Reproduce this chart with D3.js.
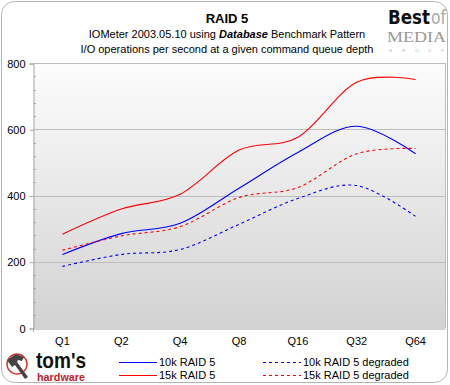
<!DOCTYPE html>
<html>
<head>
<meta charset="utf-8">
<script src="https://cdn.jsdelivr.net/npm/d3@7"></script>
<style>
  body { margin: 0; background: #fff; }
  svg { display: block; font-family: "Liberation Sans", Arial, sans-serif; }
</style>
</head>
<body>
<svg id="chart" width="450" height="385"></svg>
<script>
// data
var categories = ["Q1", "Q2", "Q4", "Q8", "Q16", "Q32", "Q64"];
var raid10k = [222, 285, 316, 422, 530, 609, 526];
var raid15k = [283, 359, 404, 537, 576, 742, 750];
var raid10kDeg = [186, 222, 237, 313, 391, 430, 337];
var raid15kDeg = [235, 278, 306, 394, 424, 526, 542];
var yTicks = [0, 200, 400, 600, 800];

var series = [
  { name: "10k RAID 5", values: raid10k, color: "#0000ff", dash: null },
  { name: "15k RAID 5", values: raid15k, color: "#ff0000", dash: null },
  { name: "10k RAID 5 degraded", values: raid10kDeg, color: "#0000ff", dash: "3,3" },
  { name: "15k RAID 5 degraded", values: raid15kDeg, color: "#ff0000", dash: "3,3" }
];

function drawChart() {
  var svg = d3.select("#chart");
  var pLeft = 33, pRight = 445, pTop = 63, pBottom = 328;

  // outer rounded frame
  svg.append("rect")
     .attr("x", 1.5).attr("y", 1.5)
     .attr("width", 446).attr("height", 381)
     .attr("rx", 13)
     .attr("fill", "#fff")
     .attr("stroke", "#b4b4b4")
     .attr("stroke-width", 1);

  var defs = svg.append("defs");
  var grad = defs.append("linearGradient")
     .attr("id", "plotbg").attr("x1", 0).attr("y1", 0).attr("x2", 0).attr("y2", 1);
  grad.append("stop").attr("offset", "0%").attr("stop-color", "#fdfdfd");
  grad.append("stop").attr("offset", "100%").attr("stop-color", "#d2d2d2");

  var x = d3.scaleBand().domain(categories).range([pLeft, pRight]);
  var y = d3.scaleLinear().domain([0, 800]).range([pBottom, pTop]);

  // plot area
  svg.append("rect")
     .attr("x", pLeft).attr("y", pTop)
     .attr("width", pRight - pLeft).attr("height", pBottom - pTop)
     .attr("fill", "url(#plotbg)");

  // gridlines
  svg.append("g")
     .selectAll("line")
     .data(yTicks.filter(function(d) { return d > 0; }))
     .enter().append("line")
     .attr("x1", pLeft).attr("x2", pRight)
     .attr("y1", function(d) { return Math.round(y(d)) + 0.5; })
     .attr("y2", function(d) { return Math.round(y(d)) + 0.5; })
     .attr("stroke", "#bdbdbd");

  // right border of plot
  svg.append("line")
     .attr("x1", pRight + 0.5).attr("x2", pRight + 0.5)
     .attr("y1", pTop).attr("y2", pBottom)
     .attr("stroke", "#bdbdbd");

  // y axis
  var yAxis = svg.append("g")
     .attr("transform", "translate(" + (pLeft + 0.5) + ",0.5)")
     .call(d3.axisLeft(y).tickValues(yTicks).tickSize(4).tickPadding(4));
  yAxis.select(".domain").attr("stroke", "#a8a8a8");
  yAxis.selectAll(".tick line").attr("stroke", "#a8a8a8");
  yAxis.selectAll(".tick text")
     .attr("font-size", "11px")
     .attr("font-family", "Liberation Sans, Arial, sans-serif")
     .attr("fill", "#000");

  // minor ticks inside the axis
  var minor = d3.range(40, 800, 40).filter(function(d) { return d % 200 !== 0; });
  svg.append("g")
     .selectAll("line")
     .data(minor)
     .enter().append("line")
     .attr("x1", pLeft + 0.5).attr("x2", pLeft + 3)
     .attr("y1", function(d) { return Math.round(y(d)) + 0.5; })
     .attr("y2", function(d) { return Math.round(y(d)) + 0.5; })
     .attr("stroke", "#a8a8a8");

  // x axis
  var xAxis = svg.append("g")
     .attr("transform", "translate(0," + (pBottom + 0.5) + ")")
     .call(d3.axisBottom(x).tickSize(0).tickPadding(9));
  xAxis.select(".domain").attr("stroke", "#a8a8a8");
  xAxis.selectAll(".tick text")
     .attr("font-size", "11px")
     .attr("font-family", "Liberation Sans, Arial, sans-serif")
     .attr("fill", "#000");
  svg.append("line")
     .attr("x1", pLeft + 0.5).attr("x2", pLeft + 0.5)
     .attr("y1", pBottom).attr("y2", pBottom + 4)
     .attr("stroke", "#a8a8a8");

  // lines, smoothed the way the spreadsheet does it
  var line = d3.line()
     .x(function(d, i) { return x(categories[i]) + x.bandwidth() / 2; })
     .y(function(d) { return y(d); })
     .curve(d3.curveCardinal.tension(0));

  svg.append("g")
     .selectAll("path")
     .data(series)
     .enter().append("path")
     .attr("d", function(s) { return line(s.values); })
     .attr("fill", "none")
     .attr("stroke", function(s) { return s.color; })
     .attr("stroke-width", 1.1)
     .attr("stroke-dasharray", function(s) { return s.dash; });

  // titles
  svg.append("text")
     .attr("x", 227).attr("y", 23)
     .attr("text-anchor", "middle")
     .attr("font-size", "13px")
     .attr("font-weight", "bold")
     .text("RAID 5");

  var sub = svg.append("text")
     .attr("x", 227).attr("y", 38)
     .attr("text-anchor", "middle")
     .attr("font-size", "11px");
  sub.append("tspan").text("IOMeter 2003.05.10 using ");
  sub.append("tspan").attr("font-weight", "bold").attr("font-style", "italic").text("Database");
  sub.append("tspan").text(" Benchmark Pattern");

  svg.append("text")
     .attr("x", 227).attr("y", 53)
     .attr("text-anchor", "middle")
     .attr("font-size", "11px")
     .text("I/O operations per second at a given command queue depth");

  // legend
  var legendPos = [
    { lx: 119, ty: 362 }, { lx: 119, ty: 375 },
    { lx: 263, ty: 362 }, { lx: 263, ty: 375 }
  ];
  var leg = svg.append("g")
     .selectAll("g")
     .data(series)
     .enter().append("g")
     .attr("transform", function(s, i) { return "translate(" + legendPos[i].lx + "," + legendPos[i].ty + ")"; });
  leg.append("line")
     .attr("x1", 0).attr("x2", 38)
     .attr("y1", 0.5).attr("y2", 0.5)
     .attr("stroke", function(s) { return s.color; })
     .attr("stroke-width", 1.1)
     .attr("stroke-dasharray", function(s) { return s.dash; });
  leg.append("text")
     .attr("x", 40).attr("y", 4)
     .attr("font-size", "11px")
     .text(function(s) { return s.name; });

  // Best of MEDIA GROUP logo
  var bom = svg.append("g");
  bom.append("text")
     .attr("x", 388).attr("y", 24)
     .attr("font-family", "Liberation Sans Narrow, DejaVu Sans Condensed, sans-serif")
     .attr("font-weight", "bold")
     .attr("font-size", "19px")
     .attr("textLength", 42).attr("lengthAdjust", "spacingAndGlyphs")
     .attr("fill", "#111")
     .text("Best");
  bom.append("text")
     .attr("x", 431).attr("y", 24)
     .attr("font-family", "Liberation Sans Narrow, DejaVu Sans Condensed, sans-serif")
     .attr("font-size", "19px")
     .attr("textLength", 15).attr("lengthAdjust", "spacingAndGlyphs")
     .attr("fill", "#aaa")
     .text("of");
  bom.append("text")
     .attr("x", 387).attr("y", 42)
     .attr("font-family", "Liberation Serif, serif")
     .attr("font-size", "15px")
     .attr("textLength", 59).attr("lengthAdjust", "spacingAndGlyphs")
     .attr("fill", "#999")
     .text("MEDIA");
  bom.append("text")
     .attr("x", 389).attr("y", 52)
     .attr("font-size", "4px")
     .attr("textLength", 55).attr("lengthAdjust", "spacing")
     .attr("fill", "#aaa")
     .text("GROUP");

  // tom's hardware logo
  var th = svg.append("g");
  th.append("circle")
     .attr("cx", 17).attr("cy", 364).attr("r", 10)
     .attr("fill", "none").attr("stroke", "#d83a2a").attr("stroke-width", 1.5);
  th.append("path")
     .attr("d", "M7,360 L16,354 L24,357 L22,361 L18,360 L17,362 L28,377 L25,379 L15,365 L12,367 Z")
     .attr("fill", "#444");
  th.append("text")
     .attr("x", 36).attr("y", 368)
     .attr("font-size", "22px")
     .attr("font-weight", "bold")
     .attr("textLength", 50).attr("lengthAdjust", "spacingAndGlyphs")
     .attr("fill", "#111")
     .text("tom's");
  th.append("text")
     .attr("x", 37).attr("y", 381)
     .attr("font-size", "10px")
     .attr("font-weight", "bold")
     .attr("textLength", 48).attr("lengthAdjust", "spacingAndGlyphs")
     .attr("fill", "#c0242b")
     .text("hardware");
}

drawChart();
</script>
</body>
</html>
